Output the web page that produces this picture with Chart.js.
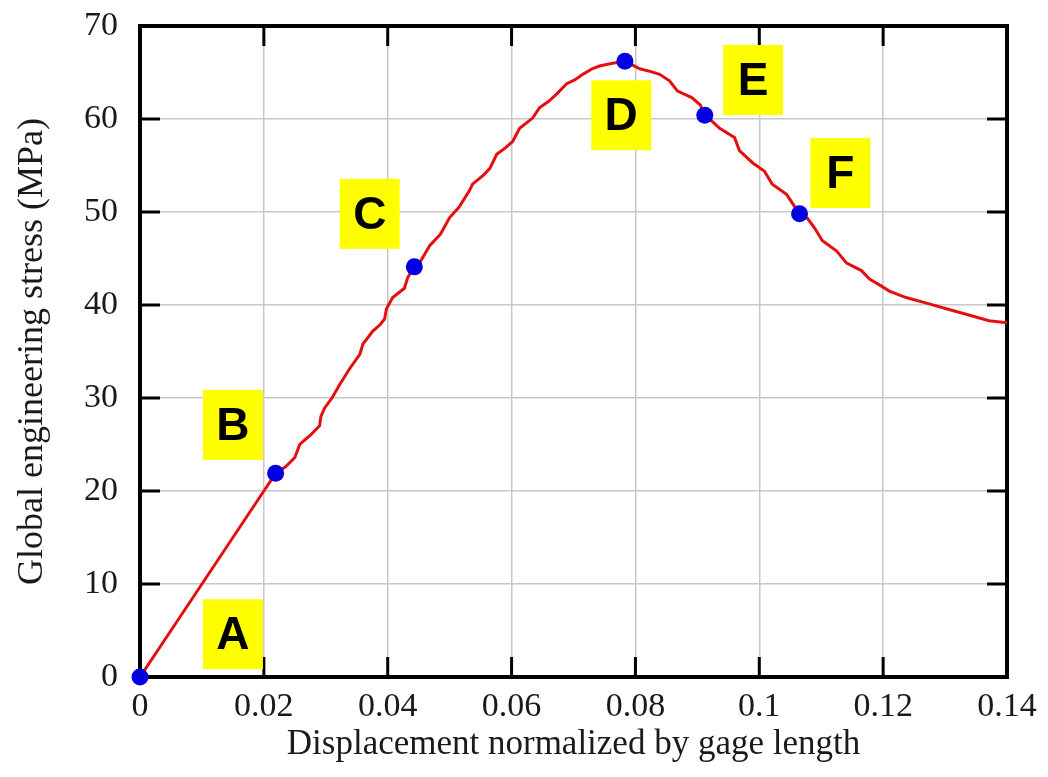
<!DOCTYPE html>
<html>
<head>
<meta charset="utf-8">
<script src="https://cdn.jsdelivr.net/npm/chart.js@4/dist/chart.umd.min.js"></script>
<style>
  html, body { margin: 0; padding: 0; background: #fff; }
  #wrap { width: 1048px; height: 777px; }
</style>
</head>
<body>
<div id="wrap"><canvas id="main" width="1048" height="777"></canvas></div>
<script>
// curve (displacement / gage length, MPa)
const strain = [0, 0.005, 0.010, 0.015, 0.020, 0.0219, 0.0235, 0.025, 0.0258, 0.0275, 0.029, 0.0292, 0.0298, 0.031,
  0.0323, 0.0339, 0.0355, 0.036, 0.0376, 0.0388, 0.0395, 0.0398, 0.0408, 0.0427, 0.0432, 0.0442, 0.0452, 0.0468,
  0.0485, 0.050, 0.0515, 0.0532, 0.0537, 0.0555, 0.0565, 0.0576, 0.059, 0.0602, 0.0613, 0.0634, 0.0645, 0.066,
  0.0673, 0.0689, 0.0702, 0.0715, 0.073, 0.0742, 0.0763, 0.0784, 0.0807, 0.0825, 0.0839, 0.0855, 0.0868, 0.0891,
  0.0905, 0.091, 0.0936, 0.096, 0.0968, 0.0989, 0.1008, 0.1021, 0.1044, 0.1065, 0.1078, 0.1089, 0.1102, 0.1125,
  0.1141, 0.1165, 0.1178, 0.1198, 0.121, 0.1237, 0.127, 0.1302, 0.1334, 0.1371, 0.14];
const stress = [0, 5.0, 10.0, 15.0, 20.0, 21.9, 22.6, 23.6, 25.0, 26.0, 27.0, 28.0, 28.9, 30.0,
  31.5, 33.2, 34.7, 35.8, 37.2, 37.9, 38.5, 39.6, 40.8, 41.8, 42.9, 44.1, 44.6, 46.4,
  47.6, 49.4, 50.5, 52.3, 53.0, 54.0, 54.7, 56.2, 56.9, 57.6, 59.0, 60.1, 61.2, 61.9,
  62.7, 63.8, 64.2, 64.8, 65.4, 65.7, 66.0, 66.2, 65.4, 65.1, 64.8, 64.1, 63.0, 62.3,
  61.5, 60.6, 59.0, 58.0, 56.6, 55.3, 54.4, 53.0, 51.9, 49.8, 49.3, 48.3, 46.9, 45.8,
  44.5, 43.7, 42.8, 42.0, 41.5, 40.8, 40.2, 39.6, 39.0, 38.3, 38.1];

// marked states A..F
const markNames = ['A', 'B', 'C', 'D', 'E', 'F'];
const markStrain = [0, 0.0219, 0.0443, 0.0783, 0.0912, 0.1065];
const markStress = [0, 21.9, 44.1, 66.2, 60.4, 49.8];
// where the letter boxes sit (data coords of box centre)
const boxStrain = [0.015, 0.015, 0.0371, 0.0777, 0.0990, 0.1131];
const boxStress = [4.6, 27.1, 49.8, 60.4, 64.2, 54.2];

const xTicks = [0, 0.02, 0.04, 0.06, 0.08, 0.1, 0.12, 0.14];
const yTicks = [0, 10, 20, 30, 40, 50, 60, 70];

const serif = "'Liberation Serif', 'Times New Roman', serif";

// thick frame + inward ticks on all four sides
const framePlugin = {
  id: 'frame',
  beforeDatasetsDraw(chart) {
    const {ctx, chartArea: a, scales} = chart;
    ctx.save();
    ctx.strokeStyle = '#000';
    ctx.lineWidth = 3;
    const len = 20;
    xTicks.forEach(v => {
      const px = scales.x.getPixelForValue(v);
      ctx.beginPath();
      ctx.moveTo(px, a.bottom); ctx.lineTo(px, a.bottom - len);
      ctx.moveTo(px, a.top); ctx.lineTo(px, a.top + len);
      ctx.stroke();
    });
    yTicks.forEach(v => {
      const py = scales.y.getPixelForValue(v);
      ctx.beginPath();
      ctx.moveTo(a.left, py); ctx.lineTo(a.left + len, py);
      ctx.moveTo(a.right, py); ctx.lineTo(a.right - len, py);
      ctx.stroke();
    });
    ctx.lineWidth = 4;
    ctx.strokeRect(a.left, a.top, a.right - a.left, a.bottom - a.top);
    ctx.restore();
  },
  afterDatasetsDraw(chart) {
    const {ctx, scales} = chart;
    ctx.save();
    ctx.font = "bold 46px 'Liberation Sans', Arial, sans-serif";
    ctx.textAlign = 'center';
    ctx.textBaseline = 'middle';
    for (let i = 0; i < markNames.length; i++) {
      const cx = scales.x.getPixelForValue(boxStrain[i]);
      const cy = scales.y.getPixelForValue(boxStress[i]);
      ctx.fillStyle = '#ffff00';
      ctx.fillRect(cx - 30, cy - 35, 60, 70);
      ctx.fillStyle = '#000';
      ctx.fillText(markNames[i], cx, cy + 2);
    }
    ctx.restore();
  }
};

new Chart(document.getElementById('main'), {
  type: 'scatter',
  data: {
    datasets: [
      {
        label: 'curve',
        data: strain.map((x, i) => ({x: x, y: stress[i]})),
        showLine: true,
        borderColor: '#e41010',
        borderWidth: 3,
        pointRadius: 0,
        tension: 0,
        order: 2
      },
      {
        label: 'states',
        data: markStrain.map((x, i) => ({x: x, y: markStress[i]})),
        showLine: false,
        pointRadius: 8.5,
        pointBackgroundColor: '#0000e0',
        pointBorderWidth: 0,
        clip: false,
        order: 1
      }
    ]
  },
  options: {
    responsive: false,
    animation: false,
    layout: {padding: {top: 26, right: 41, left: 0, bottom: 0}},
    plugins: {legend: {display: false}, tooltip: {enabled: false}},
    scales: {
      x: {
        type: 'linear',
        min: 0, max: 0.14,
        afterBuildTicks: s => { s.ticks = xTicks.map(v => ({value: v})); },
        afterFit: s => { s.height = 100; s.paddingLeft = 0; s.paddingRight = 0; },
        grid: {color: '#c8c8c8', lineWidth: 1.5, drawTicks: false},
        border: {display: false},
        ticks: {
          padding: 10,
          color: '#1a1a1a',
          font: {family: serif, size: 34},
          callback: v => String(parseFloat(v.toFixed(2)))
        },
        title: {
          display: true,
          text: 'Displacement normalized by gage length',
          color: '#1a1a1a',
          font: {family: serif, size: 35},
          padding: {top: 0, bottom: 11}
        }
      },
      y: {
        type: 'linear',
        min: 0, max: 70,
        afterBuildTicks: s => { s.ticks = yTicks.map(v => ({value: v})); },
        afterFit: s => { s.width = 140; s.paddingTop = 0; s.paddingBottom = 0; },
        grid: {color: '#c8c8c8', lineWidth: 1.5, drawTicks: false},
        border: {display: false},
        ticks: {
          padding: 22,
          color: '#1a1a1a',
          font: {family: serif, size: 34}
        },
        title: {
          display: true,
          text: 'Global engineering stress (MPa)',
          color: '#1a1a1a',
          font: {family: serif, size: 36},
          padding: {top: 11, bottom: 0}
        }
      }
    }
  },
  plugins: [framePlugin]
});
</script>
</body>
</html>
